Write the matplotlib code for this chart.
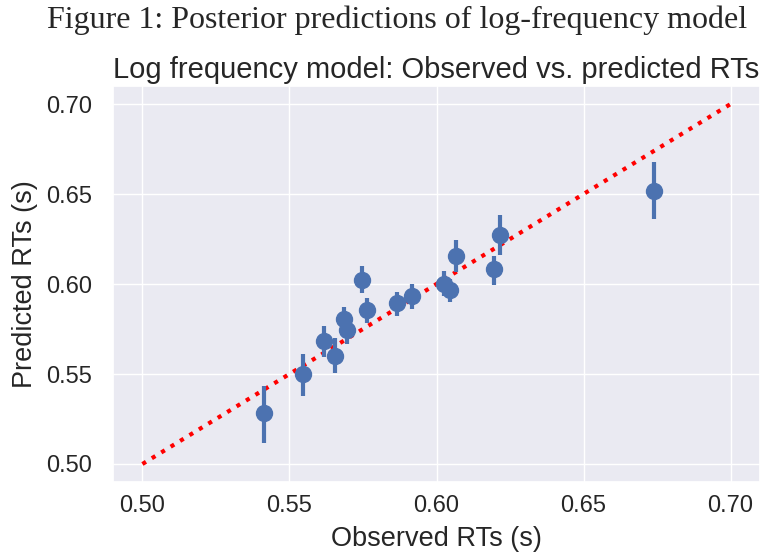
import matplotlib

matplotlib.use("Agg")
import matplotlib.pyplot as plt
import seaborn as sns

# Observed mean RTs per item and posterior predicted means with 95% intervals
observed = [0.5412, 0.5545, 0.5616, 0.5655, 0.5685, 0.5695, 0.5746, 0.5765,
            0.5866, 0.5916, 0.6027, 0.6046, 0.6067, 0.6197, 0.6217, 0.6738]
predicted = [0.5283, 0.5498, 0.5682, 0.5602, 0.5806, 0.5744, 0.6022, 0.5856,
             0.5893, 0.5935, 0.5998, 0.5967, 0.6156, 0.6082, 0.6272, 0.6518]
pred_low = [0.5115, 0.5379, 0.5596, 0.5507, 0.5740, 0.5667, 0.5952, 0.5785,
            0.5822, 0.5863, 0.5935, 0.5902, 0.6068, 0.5994, 0.6161, 0.6361]
pred_high = [0.5433, 0.5611, 0.5767, 0.5698, 0.5874, 0.5810, 0.6100, 0.5920,
             0.5957, 0.6000, 0.6074, 0.6030, 0.6244, 0.6156, 0.6383, 0.6679]

identity = [0.5, 0.7]
ticks = [0.50, 0.55, 0.60, 0.65, 0.70]

sns.set_theme(style="darkgrid", font_scale=1.5)
plt.rcParams["font.family"] = ["Liberation Sans", "DejaVu Sans"]

fig = plt.figure(figsize=(7.62, 5.56), dpi=100)
ax = fig.add_axes([0.1483, 0.1331, 0.8491, 0.7122])

yerr = [
    [p - lo for p, lo in zip(predicted, pred_low)],
    [hi - p for p, hi in zip(predicted, pred_high)],
]
ax.errorbar(observed, predicted, yerr=yerr, fmt="o", color="#4C72B0",
            markersize=11.5, elinewidth=3, capsize=0, zorder=3)
ax.plot(identity, identity, ":", color="red", linewidth=3, zorder=2)

ax.set_xlim(0.49, 0.71)
ax.set_ylim(0.49, 0.71)
ax.set_xticks(ticks)
ax.set_yticks(ticks)
ax.tick_params(axis="both", labelsize=17)
ax.tick_params(axis="y", pad=9)
ax.set_xlabel("Observed RTs (s)", fontsize=19.5, labelpad=6)
ax.set_ylabel("Predicted RTs (s)", fontsize=19.5, labelpad=6)
ax.set_title("Log frequency model: Observed vs. predicted RTs", fontsize=21)

fig.suptitle("Figure 1: Posterior predictions of log-frequency model",
             family="Liberation Serif", fontsize=23, x=0.521, y=0.99)

fig.savefig("out.png", dpi=100)
